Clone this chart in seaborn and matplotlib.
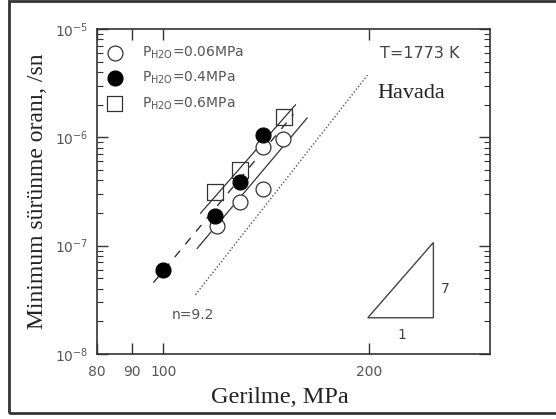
import matplotlib
matplotlib.use("Agg")
import matplotlib.pyplot as plt
import seaborn as sns
import pandas as pd
from matplotlib.patches import Rectangle, Polygon
from matplotlib.ticker import LogLocator, NullFormatter, FixedLocator, FixedFormatter

# ---- data ----
x_006 = [119.8, 129.6, 139.8, 139.8, 149.6]
y_006 = [1.53e-7, 2.55e-7, 3.35e-7, 8.1e-7, 9.7e-7]
x_04 = [100.0, 119.0, 129.3, 139.7]
y_04 = [5.9e-8, 1.88e-7, 3.9e-7, 1.06e-6]
x_06 = [119.0, 129.3, 150.0]
y_06 = [3.12e-7, 5.0e-7, 1.54e-6]
labels = [r"$\mathregular{P_{H2O}}$=0.06MPa", r"$\mathregular{P_{H2O}}$=0.4MPa",
          r"$\mathregular{P_{H2O}}$=0.6MPa"]

# fit lines (endpoints)
upper_x = [113.3, 156.0]; upper_y = [1.99e-7, 2.0e-6]
lower_x = [112.0, 162.2]; lower_y = [9.4e-8, 1.51e-6]
dash_x = [96.7, 154.9]; dash_y = [4.55e-8, 1.63e-6]
dot_x = [111.4, 198.7]; dot_y = [3.52e-8, 3.75e-6]
tri_x = [198.9, 248.0, 248.0]; tri_y = [2.16e-8, 2.16e-8, 1.07e-7]

xticks = [80, 90, 100, 200]
xticklabels = ["80", "90", "100", "200"]

sns.set_style("ticks")
plt.rcParams['font.family'] = ['DejaVu Sans']

fig = plt.figure(figsize=(5.56, 4.19), dpi=100)
ax = fig.add_axes([97/556, 1-354/419, (490-97)/556, (354-29)/419])

df1 = pd.DataFrame({"x": x_006, "y": y_006})
df2 = pd.DataFrame({"x": x_04, "y": y_04})
df3 = pd.DataFrame({"x": x_06, "y": y_06})

sns.scatterplot(data=df1, x="x", y="y", ax=ax, marker="o", s=115, facecolor="white",
                edgecolor="#333333", linewidth=0.9, label=labels[0], zorder=3)
sns.scatterplot(data=df2, x="x", y="y", ax=ax, marker="o", s=115, color="black",
                edgecolor="black", linewidth=0.9, label=labels[1], zorder=3)
sns.scatterplot(data=df3, x="x", y="y", ax=ax, marker="s", s=125, facecolor="none",
                edgecolor="#333333", linewidth=0.9, label=labels[2], zorder=2)

ax.plot(upper_x, upper_y, color="#333333", lw=0.9, zorder=2)
ax.plot(lower_x, lower_y, color="#333333", lw=0.9, zorder=2)
ax.plot(dash_x, dash_y, color="#333333", lw=1.0, ls=(0, (6, 6)), zorder=2)
ax.plot(dot_x, dot_y, color="#555555", lw=1.0, ls=(0, (1, 1.5)), zorder=2)
ax.add_patch(Polygon(list(zip(tri_x, tri_y)), closed=True, fill=False,
                     edgecolor="#444444", lw=1.0))

ax.set_xscale("log")
ax.set_yscale("log")
ax.set_xlim(80, 300)
ax.set_ylim(1e-8, 1e-5)

ax.xaxis.set_major_locator(FixedLocator(xticks))
ax.xaxis.set_major_formatter(FixedFormatter(xticklabels))
ax.xaxis.set_minor_locator(FixedLocator([]))
ax.yaxis.set_major_locator(LogLocator(base=10))
ax.yaxis.set_minor_locator(LogLocator(base=10, subs=range(2, 10)))
ax.yaxis.set_minor_formatter(NullFormatter())
ax.set_yticks([1e-8, 1e-7, 1e-6, 1e-5])
ax.set_yticklabels([r"$10^{-8}$", r"$10^{-7}$", r"$10^{-6}$", r"$10^{-5}$"])

ax.tick_params(which="both", direction="in", top=True, right=True, colors="#333333",
               labelcolor="#555555", labelsize=10)
ax.tick_params(which="major", length=8, width=1)
ax.tick_params(which="minor", length=4, width=0.8)
ax.tick_params(axis="x", pad=8)
ax.tick_params(axis="y", pad=6)
for s in ax.spines.values():
    s.set_color("#333333")
    s.set_linewidth(1.2)

ax.set_xlabel("Gerilme, MPa", family="Liberation Serif", fontsize=17.5, color="#222222")
ax.xaxis.set_label_coords(0.466, -0.10)
ax.set_ylabel("Minimum sürünme oranı, /sn", family="Liberation Serif", fontsize=17,
              color="#222222", labelpad=5)

leg = ax.legend(loc="upper left", frameon=False, fontsize=10, labelcolor="#555555",
                handletextpad=1.5, borderaxespad=0.5, labelspacing=0.65,
                handlelength=1.0, borderpad=0.6, bbox_to_anchor=(-0.012, 1.0))

ax.text(0.72, 0.925, "T=1773 K", transform=ax.transAxes, fontsize=11.5, color="#444444",
        va="center")
ax.text(0.714, 0.80, "Havada", transform=ax.transAxes, fontsize=16, color="#222222",
        family="Liberation Serif", va="center")
ax.text(110.6, 2.3e-8, "n=9.2", fontsize=10, color="#555555", ha="center", va="center")
ax.text(223, 1.5e-8, "1", fontsize=10, color="#444444", ha="center", va="center")
ax.text(258, 4.0e-8, "7", fontsize=10, color="#444444", ha="center", va="center")

fig.patches.append(Rectangle((9/556, 1-413/419), 1.2, (413-1.5)/419,
                             transform=fig.transFigure, fill=False,
                             edgecolor="#333333", lw=2.0))

fig.savefig("out.png", dpi=100)
